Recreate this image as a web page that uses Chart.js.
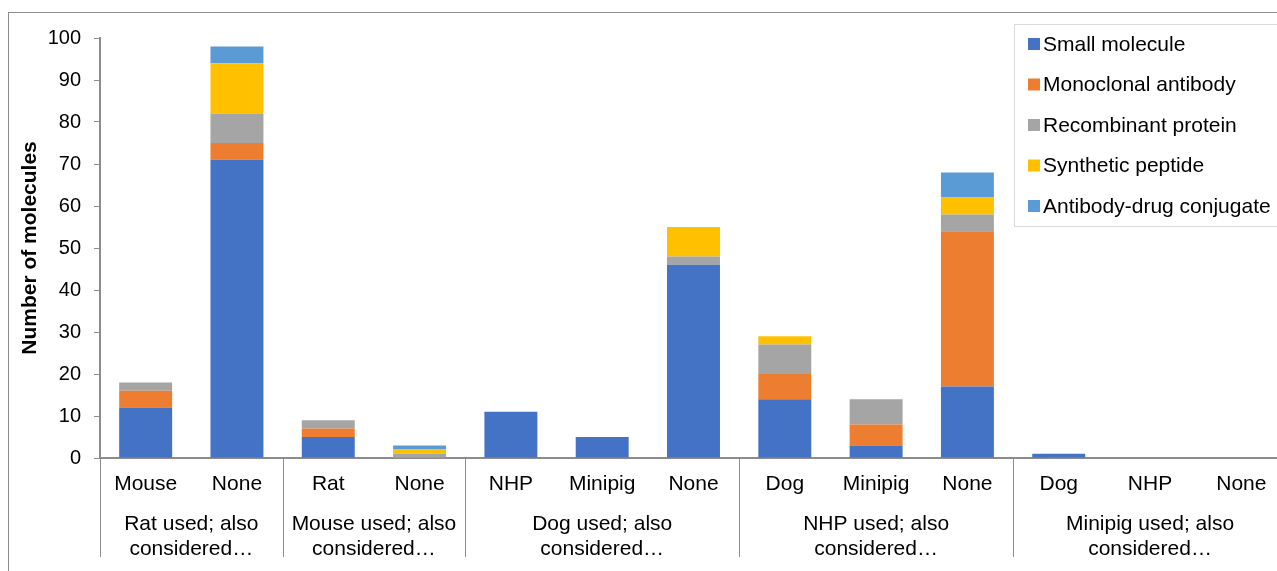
<!DOCTYPE html>
<html>
<head>
<meta charset="utf-8">
<script src="https://cdn.jsdelivr.net/npm/chart.js@4"></script>
<style>
  html, body { margin: 0; padding: 0; background: #fff; overflow: hidden; }
  #wrap { position: relative; width: 1300px; height: 571px; }
  #frame { position: absolute; left: 8px; top: 12px; width: 1400px; height: 700px; border: 1px solid #8c8c8c; }
  canvas { position: absolute; left: 0; top: 0; }
</style>
</head>
<body>
<div id="wrap">
  <div id="frame"></div>
  <canvas id="molChart" width="1300" height="571"></canvas>
</div>
<script>
const labels = ['Mouse', 'None', 'Rat', 'None', 'NHP', 'Minipig', 'None', 'Dog', 'Minipig', 'None', 'Dog', 'NHP', 'None']
const groupLabels = [
  ['Rat used; also', 'considered…'],
  ['Mouse used; also', 'considered…'],
  ['Dog used; also', 'considered…'],
  ['NHP used; also', 'considered…'],
  ['Minipig used; also', 'considered…']
]
const groupSizes = [2, 2, 3, 3, 3]

const smallMolecule = [12, 71, 5, 0, 11, 5, 46, 14, 3, 17, 1, 0, 0]
const monoclonal = [4, 4, 2, 0, 0, 0, 0, 6, 5, 37, 0, 0, 0]
const recombinant = [2, 7, 2, 1, 0, 0, 2, 7, 6, 4, 0, 0, 0]
const synthetic = [0, 12, 0, 1, 0, 0, 7, 2, 0, 4, 0, 0, 0]
const adc = [0, 4, 0, 1, 0, 0, 0, 0, 0, 6, 0, 0, 0]

const font = '"Liberation Sans", Arial, sans-serif'

const groupPlugin = {
  id: 'groups',
  afterDraw(chart) {
    const ctx = chart.ctx
    const x = chart.scales.x
    const bottom = chart.chartArea.bottom
    const half = (x.getPixelForValue(1) - x.getPixelForValue(0)) / 2
    let start = 0
    ctx.save()
    ctx.strokeStyle = '#8c8c8c'
    ctx.lineWidth = 1
    ctx.fillStyle = '#000'
    ctx.font = '21px ' + font
    ctx.textAlign = 'center'
    ctx.textBaseline = 'middle'
    groupSizes.forEach((n, i) => {
      const left = x.getPixelForValue(start) - half
      const right = x.getPixelForValue(start + n - 1) + half
      ctx.beginPath()
      ctx.moveTo(Math.round(left) + 0.5, bottom)
      ctx.lineTo(Math.round(left) + 0.5, bottom + 99)
      if (i === groupSizes.length - 1) {
        ctx.moveTo(Math.round(right) + 0.5, bottom)
        ctx.lineTo(Math.round(right) + 0.5, bottom + 99)
      }
      ctx.stroke()
      groupLabels[i].forEach((line, j) => {
        ctx.fillText(line, (left + right) / 2, bottom + 66 + j * 25)
      })
      start += n
    })
    ctx.restore()
  }
}

const legendPlugin = {
  id: 'boxLegend',
  afterDraw(chart) {
    const ctx = chart.ctx
    ctx.save()
    ctx.fillStyle = '#fff'
    ctx.fillRect(1014.5, 24.5, 300, 202)
    ctx.strokeStyle = '#d9d9d9'
    ctx.lineWidth = 1
    ctx.strokeRect(1014.5, 24.5, 300, 202)
    ctx.font = '21px ' + font
    ctx.textBaseline = 'middle'
    chart.data.datasets.forEach((ds, i) => {
      const y = 44 + i * 40.5
      ctx.fillStyle = ds.backgroundColor
      ctx.fillRect(1028, y - 6, 12, 12)
      ctx.fillStyle = '#000'
      ctx.fillText(ds.label, 1043, y + 1)
    })
    ctx.restore()
  }
}

const ctx = document.getElementById('molChart').getContext('2d')

new Chart(ctx, {
  type: 'bar',
  data: {
    labels,
    datasets: [
      { label: 'Small molecule', data: smallMolecule, backgroundColor: '#4472C4' },
      { label: 'Monoclonal antibody', data: monoclonal, backgroundColor: '#ED7D31' },
      { label: 'Recombinant protein', data: recombinant, backgroundColor: '#A5A5A5' },
      { label: 'Synthetic peptide', data: synthetic, backgroundColor: '#FFC000' },
      { label: 'Antibody-drug conjugate', data: adc, backgroundColor: '#5B9BD5' }
    ]
  },
  options: {
    responsive: false,
    animation: false,
    layout: { padding: { top: 38, right: 13, left: 0, bottom: 0 } },
    datasets: { bar: { categoryPercentage: 1, barPercentage: 0.58 } },
    plugins: { legend: { display: false }, tooltip: { enabled: false } },
    scales: {
      x: {
        stacked: true,
        afterFit(scale) { scale.height = 113 },
        grid: { display: false },
        border: { color: '#8c8c8c', width: 2 },
        ticks: { color: '#000', font: { family: font, size: 21 }, padding: 6, maxRotation: 0, autoSkip: false }
      },
      y: {
        stacked: true,
        min: 0,
        max: 100,
        afterFit(scale) { scale.width = 100 },
        grid: { drawOnChartArea: false, tickLength: 6, color: '#8c8c8c', lineWidth: 1 },
        border: { color: '#8c8c8c', width: 2 },
        ticks: { stepSize: 10, color: '#000', font: { family: font, size: 20 }, padding: 13 },
        title: { display: true, text: 'Number of molecules', color: '#000', font: { family: font, size: 21, weight: 'bold' }, padding: { top: 18 } }
      }
    }
  },
  plugins: [groupPlugin, legendPlugin]
})
</script>
</body>
</html>
